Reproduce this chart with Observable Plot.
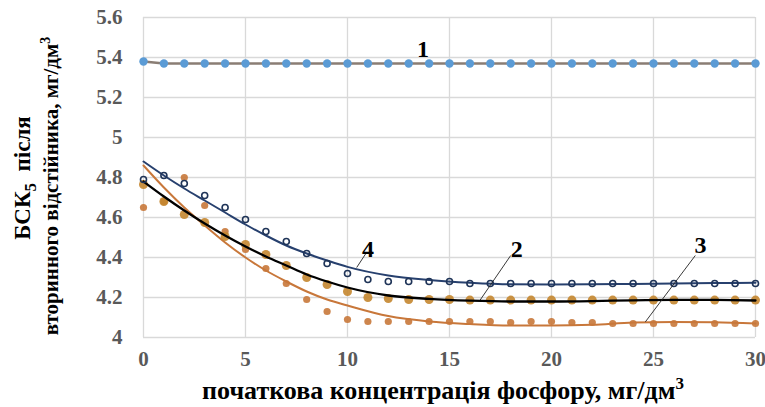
<!DOCTYPE html>
<html><head><meta charset="utf-8">
<script src="https://cdn.jsdelivr.net/npm/d3@7"></script>
<script src="https://cdn.jsdelivr.net/npm/@observablehq/plot@0.6"></script>
<style>body{margin:0;background:#fff} svg{display:block}</style>
</head><body><div id="chart"></div>
<script>
// x categories (initial phosphorus concentration)
const xs = [0,1,2,3,4,5,6,7,8,9,10,11,12,13,14,15,16,17,18,19,20,21,22,23,24,25,26,27,28,29,30];
// series 1 (light blue dots)
const s1 = [5.38,5.37,5.37,5.37,5.37,5.37,5.37,5.37,5.37,5.37,5.37,5.37,5.37,5.37,5.37,5.37,5.37,5.37,5.37,5.37,5.37,5.37,5.37,5.37,5.37,5.37,5.37,5.37,5.37,5.37,5.37];
// series 4 (navy open circles)
const s4 = [4.79,4.81,4.77,4.71,4.65,4.59,4.53,4.48,4.42,4.37,4.32,4.29,4.28,4.28,4.28,4.28,4.27,4.27,4.27,4.27,4.27,4.27,4.27,4.27,4.27,4.27,4.27,4.27,4.27,4.27,4.27];
// series 2 (large brown dots)
const s2 = [4.765,4.68,4.615,4.575,4.505,4.465,4.415,4.36,4.30,4.265,4.23,4.20,4.195,4.19,4.19,4.19,4.187,4.187,4.187,4.187,4.187,4.187,4.187,4.187,4.187,4.187,4.187,4.187,4.187,4.187,4.187];
// series 3 (small orange dots)
const s3 = [4.65,4.68,4.80,4.66,4.53,4.44,4.345,4.27,4.19,4.13,4.09,4.08,4.08,4.08,4.08,4.08,4.08,4.08,4.075,4.08,4.08,4.075,4.075,4.07,4.07,4.07,4.07,4.07,4.07,4.07,4.07];
// trend lines
const tx = [0,1,2,3,4,5,6,7,8,9,10,12,14,16,18,20,22,24,26,28,30];
const t4 = [4.88,4.81,4.745,4.685,4.625,4.565,4.51,4.46,4.42,4.385,4.353,4.31,4.288,4.274,4.266,4.265,4.266,4.268,4.27,4.272,4.274];
const t2 = [4.78,4.705,4.635,4.57,4.51,4.455,4.405,4.36,4.315,4.28,4.25,4.21,4.193,4.184,4.18,4.18,4.182,4.186,4.188,4.188,4.185];
const t3 = [4.86,4.75,4.65,4.56,4.475,4.40,4.335,4.28,4.23,4.19,4.16,4.107,4.08,4.067,4.06,4.06,4.064,4.075,4.078,4.076,4.07];
// ticks
const yTicks = [4,4.2,4.4,4.6,4.8,5,5.2,5.4,5.6];
const yTickLabels = ["4","4.2","4.4","4.6","4.8","5","5.2","5.4","5.6"];
const xTicks = [0,5,10,15,20,25,30];
const xTickLabels = ["0","5","10","15","20","25","30"];
// curve labels
const lblText = ["1","4","2","3"];
const lblX = [13.7,11.0,18.3,27.3];
const lblY = [5.44,4.44,4.44,4.46];
const leadX1 = [10.9,18.0,27.05];
const leadY1 = [4.42,4.41,4.41];
const leadX2 = [10.45,16.5,24.6];
const leadY2 = [4.35,4.187,4.078];

const pts = (a) => xs.map((x,i)=>({x, y:a[i]}));
const tr = (a) => tx.map((x,i)=>({x, y:a[i]}));
const labels = lblText.map((t,i)=>({t, x:lblX[i], y:lblY[i]}));
const leaders = leadX1.map((x,i)=>({x1:x, y1:leadY1[i], x2:leadX2[i], y2:leadY2[i]}));

const FONT = "Liberation Serif";
const chart = Plot.plot({
  width: 765, height: 407,
  marginLeft: 143, marginRight: 10, marginTop: 17, marginBottom: 70,
  x: {domain:[0,30], axis:null},
  y: {domain:[4,5.6], axis:null},
  style: {fontFamily: FONT, background:"#fff"},
  marks: [
    Plot.ruleY(yTicks, {y: d=>d, stroke:"#d9d9d9", strokeWidth:1.3}),
    Plot.ruleX(xTicks, {x: d=>d, stroke:"#d9d9d9", strokeWidth:1.3}),
    Plot.text(yTicks, {y: d=>d, text: (d,i)=>yTickLabels[i], frameAnchor:"left", textAnchor:"end", dx:-21, fontSize:21, fontWeight:"bold", fontFamily:FONT, fill:"#595959"}),
    Plot.text(xTicks, {x: d=>d, text: (d,i)=>xTickLabels[i], frameAnchor:"bottom", dy:28, fontSize:21, fontWeight:"bold", fontFamily:FONT, fill:"#595959"}),
    // series 1
    Plot.line(pts(s1), {x:"x", y:"y", stroke:"#8a7d74", strokeWidth:2.5}),
    Plot.dot(pts(s1), {x:"x", y:"y", r:4.2, fill:"#5b9bd5"}),
    // series 3 dots + trend
    Plot.dot(pts(s3), {x:"x", y:"y", r:3.6, fill:"#c8783a", fillOpacity:0.9}),
    Plot.line(tr(t3), {x:"x", y:"y", curve:"monotone-x", stroke:"#c8773a", strokeWidth:2}),
    // series 2 dots + trend
    Plot.dot(pts(s2), {x:"x", y:"y", r:4.5, fill:"#c4862f", fillOpacity:0.9}),
    Plot.line(tr(t2), {x:"x", y:"y", curve:"monotone-x", stroke:"#000", strokeWidth:2.3}),
    // series 4 dots + trend
    Plot.line(tr(t4), {x:"x", y:"y", curve:"monotone-x", stroke:"#27406e", strokeWidth:2}),
    Plot.dot(pts(s4), {x:"x", y:"y", r:3, stroke:"#1f3458", strokeWidth:1.6, fill:"none"}),
    // leaders & labels
    Plot.link(leaders, {x1:"x1", y1:"y1", x2:"x2", y2:"y2", stroke:"#222", strokeWidth:0.9}),
    Plot.text(labels, {x:"x", y:"y", text:"t", fontSize:24, fontWeight:"bold", fontFamily:FONT, fill:"#000"})
  ]
});
document.getElementById("chart").append(chart);

// axis titles with sub/superscripts
const svg = d3.select(chart);
const xt = svg.append("text")
  .attr("x", 443).attr("y", 399)
  .attr("text-anchor","middle").attr("font-family", FONT)
  .attr("font-weight","bold").attr("font-size",26).attr("fill","#000");
xt.append("tspan").text("початкова концентрація фосфору, мг/дм");
xt.append("tspan").attr("dy",-10).attr("font-size",17).text("3");

const g1 = svg.append("text")
  .attr("transform","translate(30,178) rotate(-90)")
  .attr("text-anchor","middle").attr("font-family", FONT)
  .attr("font-weight","bold").attr("font-size",23).attr("fill","#000");
g1.append("tspan").text("БСК");
g1.append("tspan").attr("dy",6).attr("font-size",17).text("5");
g1.append("tspan").attr("dy",-6).text("  після");

const g2 = svg.append("text")
  .attr("transform","translate(58,186) rotate(-90)")
  .attr("text-anchor","middle").attr("font-family", FONT)
  .attr("font-weight","bold").attr("font-size",21).attr("fill","#000");
g2.append("tspan").text("вторинного відстійника, мг/дм");
g2.append("tspan").attr("dy",-8).attr("font-size",14).text("3");
</script>
</body></html>
